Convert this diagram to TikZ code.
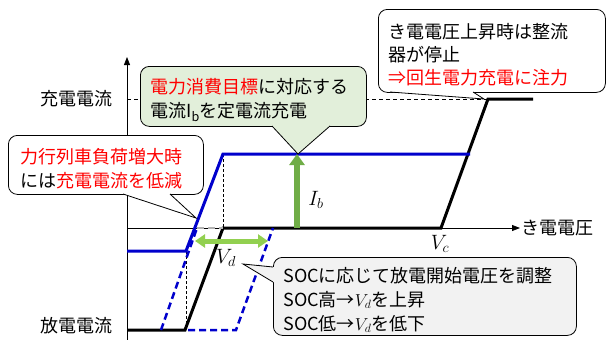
\documentclass[tikz,border=0pt]{standalone}
\usepackage{fontspec}
\setmainfont{Noto Sans CJK JP}
\usetikzlibrary{arrows.meta}
\definecolor{cblue}{RGB}{0,0,204}
\definecolor{cred}{RGB}{255,0,0}
\definecolor{cgreen}{RGB}{112,173,71}
\definecolor{lgreen}{RGB}{146,208,80}
\definecolor{gfill}{RGB}{226,239,218}
\definecolor{grayfill}{RGB}{242,242,242}
\newcommand\fstrut{\rule{0pt}{22pt}}
\begin{document}
\begin{tikzpicture}[x=1pt,y=-1pt,
  lbl/.style={font=\fontsize{18}{24}\selectfont, inner sep=0pt},
  mlbl/.style={font=\fontsize{20}{24}\selectfont, inner sep=0pt},
  callout/.style={draw=black, line width=0.8pt, rounded corners=9pt, anchor=north west,
    inner xsep=10pt, inner ysep=0pt, align=left, font=\fontsize{18}{24}\selectfont},
  axisline/.style={line width=0.8pt, -{Triangle[length=8pt,width=6pt]}},
  curve/.style={line width=3pt},
  dcurve/.style={line width=2.5pt, dash pattern=on 7pt off 4pt},
  guide/.style={line width=0.6pt, dash pattern=on 3pt off 2pt},
  ptr/.style={line width=0.8pt, line join=miter}
]
\useasboundingbox (0,0) rectangle (606,340);

% axes
\coordinate (ybot) at (127,340);
\coordinate (ytop) at (127,57);
\coordinate (xorg) at (127,228);
\coordinate (xend) at (520,228);
\draw[axisline] (ybot) -- (ytop);
\draw[axisline] (xorg) -- (xend);
\node[lbl, anchor=west] (xlab) at (521,228) {き電電圧};
\node[lbl, anchor=east] (chg) at (113,99) {充電電流};
\node[lbl, anchor=east] (dis) at (113,326) {放電電流};

% guides
\draw[line width=0.7pt, dash pattern=on 4pt off 3pt] (127,99) -- (488,99);
\draw[guide] (223,154) -- (223,228);
\draw[guide] (186,251) -- (186,330);

% black characteristic
\draw[curve] (127,330) -- (185,330) -- (223,228) -- (441,228) -- (488,99) -- (533,99);
% gray dashed segment
\draw[dcurve, gray!60] (197,228) -- (223,228);
% blue dashed shifted curves
\draw[dcurve, cblue] (161,330) -- (197,228);
\draw[dcurve, cblue] (188,330) -- (236,330) -- (273,228);
% blue solid
\draw[curve, cblue] (127,251) -- (186,251) -- (223,154) -- (470,154);

% Ib arrow
\coordinate (ib0) at (297,228);
\coordinate (ib1) at (297,154);
\draw[cgreen, line width=6pt, -{Triangle[length=11pt,width=15pt]}] (ib0) -- (ib1);
\node[mlbl] (ib) at (316,200) {$I_b$};

% Vd double arrow
\coordinate (vd0) at (195,241);
\coordinate (vd1) at (268,241);
\draw[lgreen, line width=5pt, {Triangle[length=10pt,width=13pt]}-{Triangle[length=10pt,width=13pt]}] (vd0) -- (vd1);
\node[mlbl] (vd) at (226,258) {$V_d$};
\node[mlbl] (vc) at (440,244) {$V_c$};

% green callout
\node[callout, fill=gfill, minimum width=226pt, minimum height=60pt, text width=206pt] (gbox) at (140,66)
  {\fstrut\textcolor{cred}{電力消費目標}に対応する\\電流I\textsubscript{b}を定電流充電};
\fill[gfill] (272,123) -- (272,126) -- (298,154) -- (330,126) -- (330,123) -- cycle;
\draw[ptr] (272,126) -- (298,154) -- (330,126);

% top right callout
\node[callout, fill=white, minimum width=227pt, minimum height=83pt, text width=207pt,
  font=\fontsize{18}{23}\selectfont] (tbox) at (378,9)
  {\fstrut き電電圧上昇時は整流\\器が停止\\\textcolor{cred}{⇒回生電力充電に注力}};
\fill[white] (390,89) -- (390,92) -- (484,99) -- (473,92) -- (473,89) -- cycle;
\draw[ptr] (390,92) -- (484,99) -- (473,92);

% left callout
\node[callout, fill=white, inner xsep=12pt, minimum width=195pt, minimum height=59pt, text width=171pt] (lbox) at (8,135)
  {\fstrut\textcolor{cred}{力行列車負荷増大時}\\には\textcolor{cred}{充電電流を低減}};
\fill[white] (123,191) -- (123,194) -- (196,218) -- (170,194) -- (170,191) -- cycle;
\draw[ptr] (123,194) -- (196,218) -- (170,194);

% bottom right callout
\node[callout, fill=grayfill, minimum width=303pt, minimum height=78pt, text width=283pt] (bbox) at (273,257)
  {\fstrut SOCに応じて放電開始電圧を調整\\SOC高→$V_d$を上昇\\SOC低→$V_d$を低下};
\fill[grayfill] (276,267) -- (273,267) -- (243,264) -- (273,282) -- (276,282) -- cycle;
\draw[ptr] (273,267) -- (243,264) -- (273,282);
\end{tikzpicture}
\end{document}
